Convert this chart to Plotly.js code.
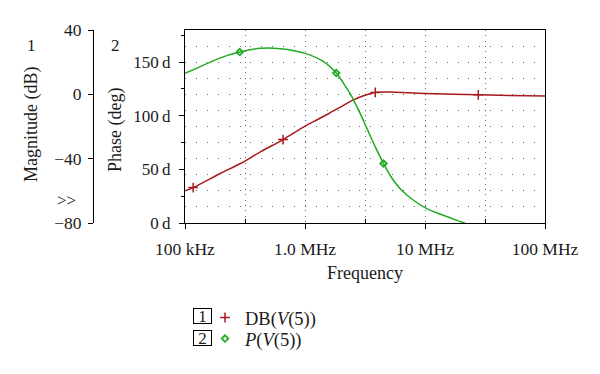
<!DOCTYPE html>
<html>
<head>
<meta charset="utf-8">
<script src="https://cdn.plot.ly/plotly-3.0.1.min.js"></script>
<style>html,body{margin:0;padding:0;background:#fff;}#chart{width:600px;height:374px;}</style>
</head>
<body>
<div id="chart"></div>
<script>
// ---- data ----
const magFreq = [1e5, 1.17e5, 1.97e5, 2.9e5, 4.25e5, 6.56e5, 1e6, 1.26e6, 1.58e6, 2.0e6, 2.51e6, 3.16e6, 3.85e6, 5.0e6, 1e7, 2.78e7, 1e8];
const magDb   = [-60, -58, -49.2, -43, -35.8, -28.1, -19.8, -15.8, -11.9, -7.6, -3.6, -0.6, 1.2, 1.4, 0.5, -0.3, -1.1];
const magMarkerIdx = [1, 5, 12, 15];

const phaseFreq = [1e5, 1.26e5, 1.95e5, 2.86e5, 4.25e5, 6.24e5, 1e6, 1.43e6, 1.82e6, 2.09e6, 2.46e6, 2.88e6, 3.28e6, 3.85e6, 4.51e6, 5.13e6, 6.21e6, 8.02e6, 1.035e7, 1.42e7, 2.02e7, 2.51e7];
const phaseDeg  = [139.5, 144.5, 153.8, 159.4, 162.9, 162.5, 158.2, 150.4, 139.8, 130.5, 117.7, 102.2, 88.2, 71, 55.5, 44.3, 32, 21.2, 13.4, 7.2, 0.9, -3];
const phaseMarkerIdx = [3, 8, 14];

const xTickVals = [1e5, 1e6, 1e7, 1e8];
const xTickText = ['100 kHz', '1.0 MHz', '10 MHz', '100 MHz'];
const xMinorVals = [3.162e5, 3.162e6, 3.162e7];
const magTickVals = [-80, -40, 0, 40];
const magTickText = ['\u221280', '\u221240', '0', '40'];
const phaseTickVals = [0, 50, 100, 150];
const phaseTickText = ['0\u2009d', '50\u2009d', '100\u2009d', '150\u2009d'];

// ---- styling ----
const RED = '#a8191f';
const GREEN = '#22aa22';
const FONT = 'Liberation Serif, Times New Roman, serif';
const TXT = '#1a1a1a';
const W = 545; // paper width (margin l = 0, r = 55)
const PT = 30, PB = 223;
const px = v => v / W;
const py = v => (PB - v) / (PB - PT);

const traces = [
  {x: magFreq, y: magDb, xaxis: 'x', yaxis: 'y', mode: 'lines', showlegend: false,
   line: {color: RED, width: 1.5, shape: 'spline', smoothing: 0.8}, hoverinfo: 'skip'},
  {x: phaseFreq, y: phaseDeg, xaxis: 'x', yaxis: 'y2', mode: 'lines', showlegend: false,
   line: {color: GREEN, width: 1.5, shape: 'spline', smoothing: 0.8}, hoverinfo: 'skip'},
  {x: magMarkerIdx.map(i => magFreq[i]), y: magMarkerIdx.map(i => magDb[i]), xaxis: 'x', yaxis: 'y',
   mode: 'markers', name: 'DB(<i>V</i>(5))', legend: 'legend', cliponaxis: false,
   marker: {symbol: 'cross-thin-open', size: 7, color: RED, line: {color: RED, width: 1.5}}},
  {x: phaseMarkerIdx.map(i => phaseFreq[i]), y: phaseMarkerIdx.map(i => phaseDeg[i]), xaxis: 'x', yaxis: 'y2',
   mode: 'markers', name: '<i>P</i>(<i>V</i>(5))', legend: 'legend2', cliponaxis: false,
   marker: {symbol: 'diamond-open', size: 5, color: GREEN, line: {color: GREEN, width: 1.8}}}
];

const legendBase = {xanchor: 'left', yanchor: 'middle',
  font: {family: FONT, size: 18.5, color: TXT}, bgcolor: 'rgba(0,0,0,0)', borderwidth: 0};

const gridCol = '#666';
const ann = (x, y, text, size, extra) => Object.assign({xref: 'paper', yref: 'paper', x: px(x), y: py(y),
  xanchor: 'center', yanchor: 'middle', text: text, showarrow: false,
  font: {family: FONT, size: size, color: TXT}}, extra || {});

const layout = {
  width: 600, height: 374,
  margin: {l: 0, r: 55, t: PT, b: 374 - PB, autoexpand: false},
  paper_bgcolor: '#fff', plot_bgcolor: '#fff',
  font: {family: FONT, size: 17, color: TXT},
  showlegend: true,
  legend: Object.assign({x: px(205), y: py(318)}, legendBase),
  legend2: Object.assign({x: px(205), y: py(339)}, legendBase),
  xaxis: {
    type: 'log', range: [5, 8], domain: [px(185), 1],
    tickmode: 'array', tickvals: xTickVals, ticktext: xTickText,
    ticks: 'outside', ticklen: 5, tickcolor: '#000', tickwidth: 1,
    showline: true, linecolor: '#000', linewidth: 1, mirror: true,
    showgrid: true, gridcolor: gridCol, gridwidth: 1, griddash: '1px,4.3px',
    zeroline: false, ticklabelstandoff: 5,
    tickfont: {family: FONT, size: 17.5, color: TXT},
    minor: {tickmode: 'array', tickvals: xMinorVals, ticks: 'inside', ticklen: 4, tickcolor: '#000',
            showgrid: true, gridcolor: gridCol, gridwidth: 1, griddash: '1px,4.3px'},
    title: {text: 'Frequency', font: {family: FONT, size: 18, color: TXT}, standoff: 8}
  },
  yaxis: {
    range: [-80, 40], anchor: 'free', position: px(93), side: 'left',
    tickmode: 'array', tickvals: magTickVals, ticktext: magTickText,
    ticks: 'outside', ticklen: 5, tickcolor: '#000',
    showline: true, linecolor: '#000', linewidth: 1,
    showgrid: true, gridcolor: gridCol, gridwidth: 1, griddash: '1px,9.9px',
    zeroline: false, ticklabelstandoff: 3,
    tickfont: {family: FONT, size: 17.5, color: TXT},
    minor: {dtick: 10, tick0: 0, ticks: '', showgrid: true, gridcolor: gridCol, gridwidth: 1, griddash: '1px,9.9px'}
  },
  yaxis2: {
    range: [0, 180], overlaying: 'y', anchor: 'x', side: 'left',
    tickmode: 'array', tickvals: phaseTickVals, ticktext: phaseTickText,
    ticks: 'outside', ticklen: 5, tickcolor: '#000',
    showline: true, linecolor: '#000', linewidth: 1, mirror: true,
    showgrid: false, zeroline: false, ticklabelstandoff: 5,
    tickfont: {family: FONT, size: 17, color: TXT},
    minor: {dtick: 25, tick0: 0, ticks: 'outside', ticklen: 3, tickcolor: '#000'}
  },
  annotations: [
    ann(31, 125, 'Magnitude (dB)', 18, {textangle: -90}),
    ann(115, 130, 'Phase (deg)', 18, {textangle: -90}),
    ann(31, 46, '1', 17),
    ann(115, 46, '2', 17),
    ann(66, 200, '&gt;&gt;', 17),
    ann(202, 316, '1', 17, {width: 17, height: 14, borderpad: 0, bordercolor: '#000', borderwidth: 1}),
    ann(202, 338, '2', 17, {width: 17, height: 14, borderpad: 0, bordercolor: '#000', borderwidth: 1})
  ]
};

Plotly.newPlot('chart', traces, layout, {staticPlot: true, displayModeBar: false});
</script>
</body>
</html>
